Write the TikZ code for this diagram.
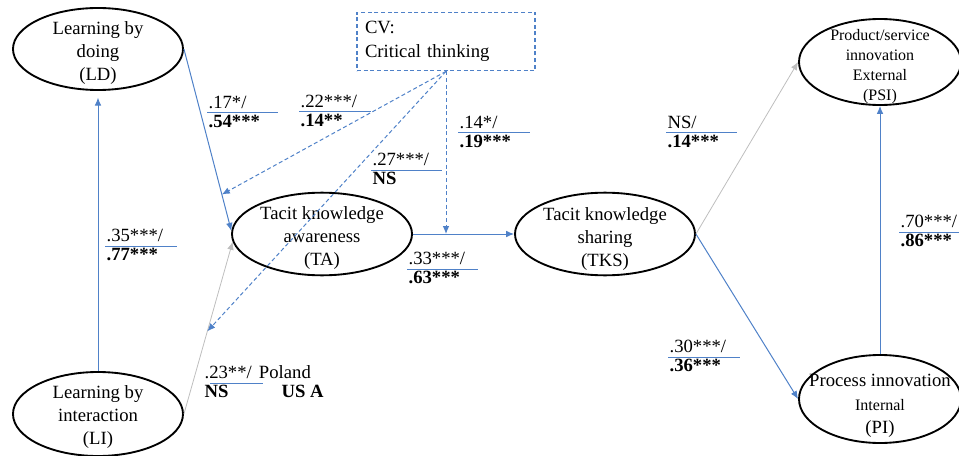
\documentclass[tikz,border=0pt]{standalone}
\usepackage{fontspec}
\setmainfont{Liberation Serif}
\usepackage{xcolor}
\usetikzlibrary{shapes,arrows.meta,positioning}

\definecolor{pathblue}{RGB}{79,129,200}
\definecolor{pathgray}{RGB}{190,190,190}
\newcommand{\bigtext}{\fontsize{14}{17.5}\selectfont}
\newcommand{\smalltext}{\fontsize{12}{15}\selectfont}

\begin{document}
\begin{tikzpicture}[
    x=0.75pt, y=-0.75pt,
    construct/.style={ellipse, draw, line width=1.4pt, inner sep=0pt},
    ctext/.style={align=center, inner sep=0pt, font=\bigtext},
    cvbox/.style={rectangle, draw=pathblue, dash pattern=on 3pt off 2pt, line width=0.8pt, text width=121.5pt, inner xsep=6pt, minimum height=44pt, align=left, font=\bigtext},
    arrow/.style={-{Latex[length=6pt,width=5pt]}, draw=pathblue, line width=0.75pt},
    grayarrow/.style={arrow, draw=pathgray, line width=0.6pt},
    modarrow/.style={arrow, dash pattern=on 3pt off 2pt},
    coeftop/.style={anchor=south west, inner xsep=1pt, inner ysep=3pt, font=\bigtext},
    coefbot/.style={anchor=north west, inner xsep=1pt, inner ysep=1.5pt, font=\bigtext\bfseries},
    rule/.style={draw=pathblue, line width=0.75pt}
]
\useasboundingbox (0,0) rectangle (959,456);

% Left - learning constructs
\node[construct, minimum width=127.5pt, minimum height=61.5pt] (LD) at (98,49) {};
\node[ctext] (LDtxt) at (98,53) {Learning by\\doing\\(LD)};
\node[construct, minimum width=127.5pt, minimum height=63pt] (LI) at (98,414) {};
\node[ctext] (LItxt) at (98,417) {Learning by\\interaction\\(LI)};

% Middle - tacit knowledge
\node[construct, minimum width=135pt, minimum height=62pt] (TA) at (322,234) {};
\node[ctext] (TAtxt) at (322,238) {Tacit knowledge\\awareness\\(TA)};
\node[construct, minimum width=135pt, minimum height=62pt] (TKS) at (605,234) {};
\node[ctext] (TKStxt) at (605,239) {Tacit knowledge\\sharing\\(TKS)};

% Right - innovation
\node[construct, minimum width=121.5pt, minimum height=64.5pt] (PSI) at (880,62) {};
\node[ctext, font=\smalltext] (PSItxt) at (880,67) {Product/service\\innovation\\External\\(PSI)};
\node[construct, minimum width=121.5pt, minimum height=66pt] (PI) at (880,399) {};
\node[ctext] (PItxt) at (880,406) {Process innovation\\{\smalltext Internal}\\(PI)};

% Control variable
\node[cvbox] (CV) at (446,41.5) {CV:\\Critical thinking};

% Paths
\draw[arrow, shorten >=5pt] (LI) -- (LD);
\draw[grayarrow] (LI.east) -- (TA.185);
\draw[arrow] (LD.east) -- (TA.178);
\draw[arrow] (TA.east) -- (TKS.west);
\draw[grayarrow] (TKS.east) -- (PSI.west);
\draw[arrow] (TKS.east) -- (PI.west);
\draw[arrow] (PI) -- (PSI);

% Moderation by CV
\path (LD.east) -- (TA.178) coordinate[pos=0.8] (mLD);
\path (LI.east) -- (TA.185) coordinate[pos=0.48] (mLI);
\coordinate (mTA) at (CV.south |- TA.east);
\draw[modarrow] (CV.south) -- (mLD);
\draw[modarrow] (CV.south) -- (mLI);
\draw[modarrow] (CV.south) -- (mTA);

% Coefficients
\node[coeftop] (ldta) at (207,113) {.17*/};
\node[coefbot] (ldtab) at (ldta.south west) {.54***};
\draw[rule] (ldta.south west) -- ++(71,0);

\node[coeftop] (cvld) at (299,112) {.22***/};
\node[coefbot] (cvldb) at (cvld.south west) {.14**};
\draw[rule] (cvld.south west) -- ++(72,0);

\node[coeftop] (cvta) at (458,133) {.14*/};
\node[coefbot] (cvtab) at (cvta.south west) {.19***};
\draw[rule] (cvta.south west) -- ++(72,0);

\node[coeftop] (cvli) at (371,170) {.27***/};
\node[coefbot] (cvlib) at (cvli.south west) {NS};
\draw[rule] (cvli.south west) -- ++(71,0);

\node[coeftop] (lild) at (105,246) {.35***/};
\node[coefbot] (lildb) at (lild.south west) {.77***};
\draw[rule] (lild.south west) -- ++(72,0);

\node[coeftop] (tatks) at (407,269) {.33***/};
\node[coefbot] (tatksb) at (tatks.south west) {.63***};
\draw[rule] (tatks.south west) -- ++(71,0);

\node[coeftop] (tkspsi) at (666,133) {NS/};
\node[coefbot] (tkspsib) at (tkspsi.south west) {.14***};
\draw[rule] (tkspsi.south west) -- ++(71,0);

\node[coeftop] (pipsi) at (899,232) {.70***/};
\node[coefbot] (pipsib) at (pipsi.south west) {.86***};
\draw[rule] (pipsi.south west) -- ++(60,0);

\node[coeftop] (tkspi) at (668,357) {.30***/};
\node[coefbot] (tkspib) at (tkspi.south west) {.36***};
\draw[rule] (tkspi.south west) -- ++(72,0);

% Legend
\node[coeftop] (lita) at (203,383) {.23**/};
\node[coefbot] (litab) at (lita.south west) {NS};
\draw[rule] (210,383) -- ++(53,0);
\node[coeftop, anchor=base west] (poland) at ([xshift=3pt]lita.base east) {Poland};
\node[coefbot, anchor=base west] (usa) at ([xshift=57.75pt]litab.base west) {US A};

\end{tikzpicture}
\end{document}
